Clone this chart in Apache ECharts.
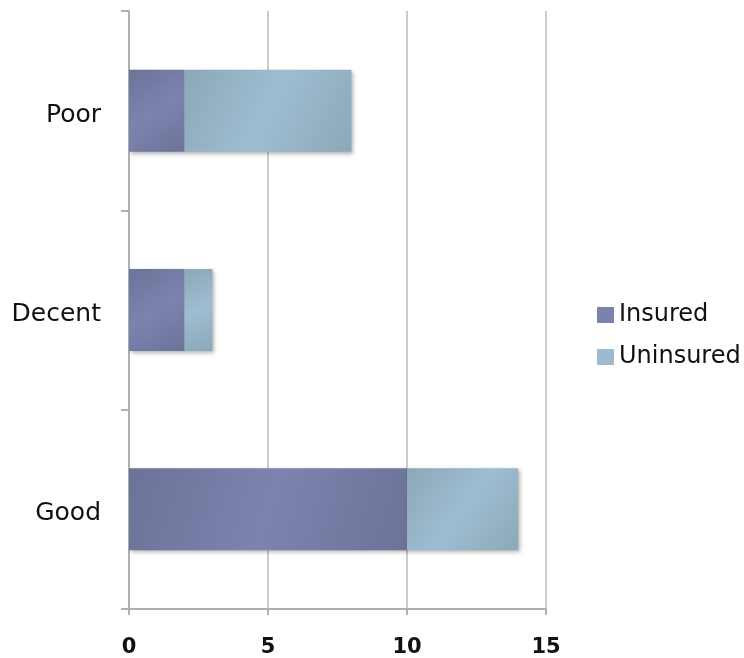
<!DOCTYPE html>
<html>
<head>
<meta charset="utf-8">
<script src="https://cdn.jsdelivr.net/npm/echarts@6/dist/echarts.min.js"></script>
<style>
html,body{margin:0;padding:0;background:#fff;}
#container{width:744px;height:658px;}
</style>
</head>
<body>
<div id="container"></div>
<script>
// 数据
var categories = ['Good', 'Decent', 'Poor'];
var insured = [10, 2, 2];
var uninsured = [4, 1, 6];
var xTicks = [0, 5, 10, 15];

var myChart = echarts.init(document.getElementById('container'));

function grad(c1, c2) { // 斜向渐变，模拟原图的光泽
    return new echarts.graphic.LinearGradient(0, 0, 1, 1, [
        {offset: 0, color: c1},
        {offset: 0.5, color: c2},
        {offset: 1, color: c1}
    ]);
}

var font = '"DejaVu Sans", sans-serif';

myChart.setOption({
    animation: false,
    grid: {left: 129, right: 198, top: 11, bottom: 48},
    legend: {
        orient: 'vertical',
        left: 592,
        top: 298,
        itemWidth: 17,
        itemHeight: 16,
        itemGap: 18,
        icon: 'rect',
        textStyle: {fontFamily: font, fontSize: 24, color: '#111', padding: [2, 0, 0, 0]},
        data: [
            {name: 'Insured', itemStyle: {color: '#7b82ac'}},
            {name: 'Uninsured', itemStyle: {color: '#9dbbcf'}}
        ]
    },
    xAxis: {
        type: 'value',
        min: xTicks[0],
        max: xTicks[xTicks.length - 1],
        interval: 5,
        axisLine: {show: true, lineStyle: {color: '#b0b0b0', width: 2}},
        axisTick: {show: true, length: 6, lineStyle: {color: '#b0b0b0', width: 2}},
        splitLine: {show: true, lineStyle: {color: '#cccccc', width: 2}},
        axisLabel: {fontFamily: font, fontSize: 21, fontWeight: 'bold', color: '#111', margin: 28}
    },
    yAxis: {
        type: 'category',
        data: categories,
        axisLine: {show: true, lineStyle: {color: '#b0b0b0', width: 2}},
        axisTick: {show: true, length: 8, lineStyle: {color: '#b0b0b0', width: 2}},
        axisLabel: {
            margin: 28,
            formatter: function (v) { return '{c|' + v + '}'; },
            rich: {c: {fontFamily: font, fontSize: 25, color: '#111', padding: [9, 0, 0, 0]}}
        }
    },
    series: [
        {
            name: 'Insured',
            type: 'bar',
            stack: 'total',
            barWidth: 82,
            data: insured,
            itemStyle: {
                color: grad('#6c7398', '#7c83ae'),
                shadowColor: 'rgba(0,0,0,0.3)',
                shadowBlur: 4,
                shadowOffsetX: 2,
                shadowOffsetY: 2
            }
        },
        {
            name: 'Uninsured',
            type: 'bar',
            stack: 'total',
            barWidth: 82,
            data: uninsured,
            itemStyle: {
                color: grad('#8ca8b8', '#9ebdd1'),
                shadowColor: 'rgba(0,0,0,0.3)',
                shadowBlur: 4,
                shadowOffsetX: 2,
                shadowOffsetY: 2
            }
        }
    ]
});
</script>
</body>
</html>
